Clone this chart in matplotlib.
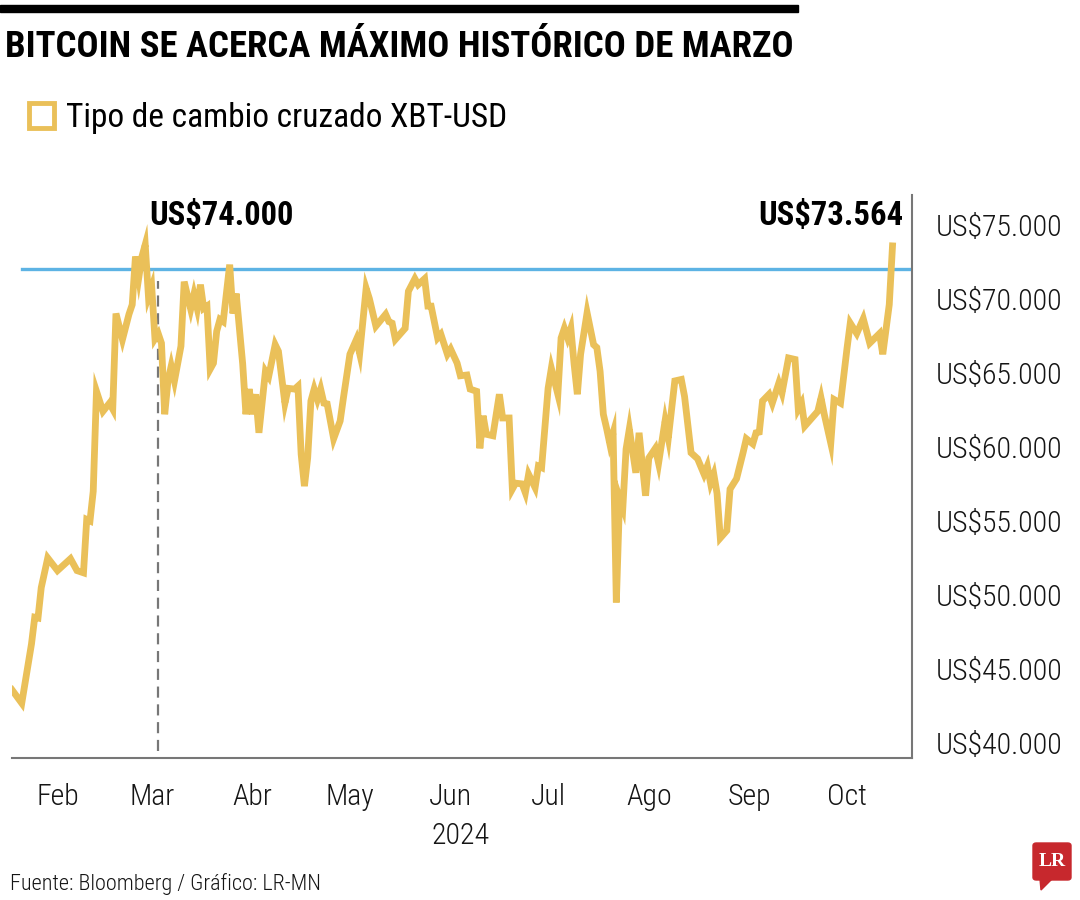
import matplotlib
matplotlib.use("Agg")
import matplotlib.pyplot as plt
from matplotlib import font_manager
from matplotlib.ticker import FuncFormatter
from matplotlib.lines import Line2D
from matplotlib.patches import Rectangle, FancyBboxPatch, Polygon
import pandas as pd

# Bitcoin / USD, feb-oct 2024
dates = [
    "02-01", "02-04", "02-07", "02-08", "02-09", "02-10", "02-12", "02-15", "02-19", "02-21",
    "02-23", "02-24", "02-25", "02-26", "02-27", "02-29", "03-02", "03-03", "03-04", "03-06",
    "03-08", "03-09", "03-10", "03-11", "03-12", "03-13", "03-14", "03-15", "03-16", "03-17",
    "03-18", "03-19", "03-20", "03-21", "03-22", "03-24", "03-25", "03-27", "03-28", "03-29",
    "03-30", "03-31", "04-01", "04-02", "04-03", "04-04", "04-05", "04-06", "04-08", "04-09",
    "04-10", "04-12", "04-13", "04-14", "04-15", "04-16", "04-17", "04-19", "04-20", "04-22",
    "04-23", "04-25", "04-26", "04-28", "04-29", "04-30", "05-01", "05-02", "05-03", "05-04",
    "05-05", "05-06", "05-07", "05-08", "05-10", "05-12", "05-13", "05-15", "05-17", "05-18",
    "05-20", "05-21", "05-23", "05-26", "05-27", "05-28", "05-29", "06-01", "06-02", "06-04",
    "06-05", "06-07", "06-08", "06-09", "06-11", "06-12", "06-14", "06-15", "06-17", "06-18",
    "06-20", "06-21", "06-23", "06-24", "06-25", "06-26", "06-28", "06-30", "07-01", "07-03",
    "07-04", "07-05", "07-07", "07-08", "07-09", "07-11", "07-12", "07-13", "07-15", "07-16",
    "07-18", "07-19", "07-20", "07-21", "07-22", "07-23", "07-24", "07-25", "07-27", "07-29",
    "07-30", "07-31", "08-01", "08-02", "08-03", "08-04", "08-05", "08-06", "08-07", "08-08",
    "08-09", "08-11", "08-12", "08-14", "08-15", "08-17", "08-18", "08-20", "08-21", "08-23",
    "08-25", "08-26", "08-28", "08-30", "09-01", "09-02", "09-03", "09-04", "09-05", "09-06",
    "09-08", "09-09", "09-11", "09-13", "09-14", "09-16", "09-17", "09-18", "09-19", "09-21",
    "09-22", "09-24", "09-25", "09-27", "09-29", "09-30", "10-01", "10-02", "10-06", "10-07",
    "10-08", "10-10", "10-11", "10-13", "10-15", "10-16", "10-18", "10-20", "10-22", "10-25",
    "10-26", "10-28", "10-29",
]
prices = [
    43600, 42700, 46700, 48500, 48450, 50500, 52500, 51650, 52450, 51650,
    51500, 55100, 55000, 57000, 63750, 62400, 62950, 62550, 69000, 67250,
    68950, 69600, 72850, 71400, 72850, 73650, 70150, 70800, 67300, 67650,
    67000, 62200, 64450, 65450, 64450, 66800, 71150, 69300, 70300, 69350,
    70950, 69350, 69500, 65250, 65650, 67800, 68600, 68450, 72300, 69000,
    70350, 65600, 62200, 63900, 62200, 63550, 60950, 65100, 64750, 66900,
    66450, 62950, 63950, 63900, 64100, 59500, 57350, 59250, 63100, 63900,
    63200, 63900, 62950, 62900, 60550, 61750, 63300, 66250, 67250, 66300,
    70700, 70000, 68150, 68950, 68450, 68350, 67250, 68000, 70500, 71350,
    70950, 71350, 69500, 69500, 67350, 67600, 66250, 66600, 65650, 64800,
    64850, 63900, 63750, 59900, 62100, 60850, 60750, 63550, 61950, 61950,
    57150, 57550, 57500, 56900, 58150, 57250, 58700, 58600, 63950, 65300,
    63550, 67350, 68000, 67350, 68000, 65600, 63550, 66250, 69050, 66900,
    66700, 65100, 62200, 61250, 60200, 60950, 49500, 56550, 55900, 59850,
    61200, 58250, 60950, 56700, 59250, 59900, 58900, 61750, 60600, 64450,
    64550, 63400, 59600, 59200, 58150, 58700, 57550, 58150, 56850, 53850,
    54350, 57150, 57850, 59600, 60550, 60200, 60950, 61000, 63100, 63550,
    62950, 64300, 63650, 66000, 65900, 62550, 62950, 61400, 62400, 63300,
    62200, 60250, 63200, 62950, 66650, 68350, 67650, 68650, 67000, 67650,
    66250, 69600, 73564,
]
month_labels = ["Feb", "Mar", "Abr", "May", "Jun", "Jul", "Ago", "Sep", "Oct"]
y_ticks = [40000, 45000, 50000, 55000, 60000, 65000, 70000, 75000]
reference_level = 72000
march_peak = "2024-03-13"
march_marker = "2024-03-17"

x = pd.to_datetime(["2024-" + d for d in dates])

GOLD = "#EAC059"
BLUE = "#5DB3E4"
GRAY = "#777777"
TXT = "#151515"


def pick(*names):
    have = {f.name for f in font_manager.fontManager.ttflist}
    return [n for n in names if n in have] + ["DejaVu Sans"]


narrow = pick("Liberation Sans Narrow", "Roboto Condensed", "Open Sans Condensed", "Lato", "Roboto")
plt.rcParams["font.family"] = narrow

fig = plt.figure(figsize=(10.8, 9), dpi=100)
ax = fig.add_axes([12 / 1080, 1 - 758 / 900, 900 / 1080, 563 / 900])

ax.plot(x, prices, color=GOLD, lw=4.9, solid_joinstyle="miter", zorder=3)
ax.axhline(reference_level, xmin=0.011, color=BLUE, lw=2.4, zorder=2)
ax.vlines(pd.Timestamp(march_marker), 39500, 71200, color=GRAY, lw=1.6,
          linestyles=(0, (5, 3)), zorder=1)

# spines: only bottom and right
for s in ["top", "left"]:
    ax.spines[s].set_visible(False)
for s in ["bottom", "right"]:
    ax.spines[s].set_color(GRAY)
    ax.spines[s].set_linewidth(1.5)

ax.yaxis.tick_right()
ax.set_yticks(y_ticks)
ax.yaxis.set_major_formatter(FuncFormatter(lambda v, p: "US$" + f"{v:,.0f}".replace(",", ".")))
ax.tick_params(axis="y", length=0, pad=17, labelsize=21.5, labelcolor=TXT)

ticks = pd.date_range("2024-02-01", periods=len(month_labels), freq="MS") + pd.Timedelta(days=14)
ax.set_xticks(ticks)
ax.set_xticklabels(month_labels)
ax.tick_params(axis="x", length=0, pad=18, labelsize=21.5, labelcolor=TXT)
for lab in ax.get_xticklabels() + ax.get_yticklabels():
    lab.set_fontweight("light")

ax.set_xlim(pd.Timestamp("2024-02-01"), pd.Timestamp("2024-11-04"))
ax.set_ylim(39000, 77000)

ax.annotate("2024", xy=(ticks[4], 0), xycoords=("data", "axes fraction"),
            xytext=(7, -46), textcoords="offset points", ha="center", va="top",
            fontsize=21.5, color=TXT, fontweight="light")

# price labels
ax.annotate("US$74.000", xy=(pd.Timestamp(march_peak), 75600), xytext=(3, 0),
            textcoords="offset points", ha="left", va="center", fontsize=23.5, fontweight="bold")
ax.annotate("US$73.564", xy=(x[-1], 75600), xytext=(8, 0), textcoords="offset points",
            ha="right", va="center", fontsize=23.5, fontweight="bold")

# header
fig.add_artist(Rectangle((0, 1 - 12 / 900), 798 / 1080, 7 / 900, color="black",
                         transform=fig.transFigure))
fig.text(5 / 1080, 1 - 47 / 900, "BITCOIN SE ACERCA MÁXIMO HISTÓRICO DE MARZO",
         fontsize=26.5, fontweight="bold", va="center", ha="left")

handle = Line2D([], [], marker="s", ls="none", markersize=18, markerfacecolor="white",
                markeredgecolor=GOLD, markeredgewidth=3.5)
fig.legend([handle], ["Tipo de cambio cruzado XBT-USD"], loc="center left",
           bbox_to_anchor=(21 / 1080, 1 - 118 / 900), frameon=False, fontsize=24,
           handletextpad=0.15, handlelength=1.2, borderpad=0, borderaxespad=0)

fig.text(10 / 1080, 1 - 884 / 900, "Fuente: Bloomberg / Gráfico: LR-MN",
         fontsize=16, va="center", ha="left", color=TXT, fontweight="light")

# LR logo
RED = "#C7282D"
fig.add_artist(FancyBboxPatch((1033 / 1080, 1 - 880 / 900), 38 / 1080, 37 / 900,
                              boxstyle="round,pad=0,rounding_size=0.003", color=RED,
                              transform=fig.transFigure))
fig.add_artist(Polygon([(1040 / 1080, 1 - 879 / 900), (1052 / 1080, 1 - 879 / 900),
                        (1041 / 1080, 1 - 890 / 900)], closed=True, color=RED,
                       transform=fig.transFigure))
fig.text(1052 / 1080, 1 - 861 / 900, "LR", color="white", fontsize=14, fontweight="bold",
         family=["Liberation Serif", "DejaVu Serif"], ha="center", va="center")

fig.savefig("out.png", dpi=100, facecolor="white")
